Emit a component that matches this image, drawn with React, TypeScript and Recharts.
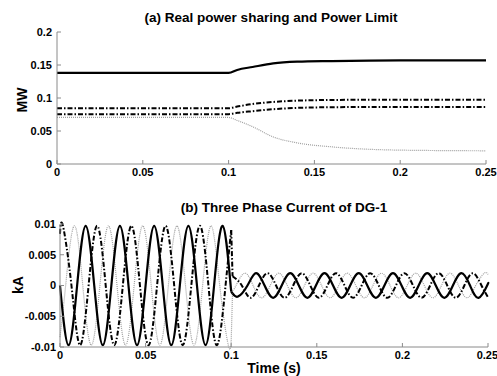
import { LineChart, Line, XAxis, YAxis } from 'recharts';

// (a) real power sharing, MW
const powerTime = [0, 0.1, 0.105, 0.114, 0.126, 0.14, 0.16, 0.2, 0.25];
const powerTotal = [0.138, 0.138, 0.1425, 0.147, 0.1525, 0.155, 0.156, 0.157, 0.157];
const powerDgA = [0.0845, 0.0845, 0.087, 0.091, 0.094, 0.096, 0.097, 0.0975, 0.0975];
const powerDgB = [0.0755, 0.0755, 0.0775, 0.08, 0.083, 0.085, 0.086, 0.0865, 0.0865];
const powerLimit = [0.0705, 0.0705, 0.066, 0.0565, 0.041, 0.032, 0.026, 0.021, 0.02];

// (b) three phase current of DG-1, kA  ([time, value] at peaks / zero crossings)
const phaseA: [number, number][] = [
  [0, 0], [0.005, -0.0097], [0.01, 0], [0.015, 0.0097], [0.02, 0], [0.025, -0.0097],
  [0.03, 0], [0.035, 0.0097], [0.04, 0], [0.045, -0.0097], [0.05, 0], [0.055, 0.0097],
  [0.06, 0], [0.065, -0.0097], [0.07, 0], [0.075, 0.0097], [0.08, 0], [0.085, -0.0097],
  [0.09, 0], [0.095, 0.0097], [0.1, -0.001], [0.1008, -0.0013], [0.104, -0.0018], [0.1095, 0], [0.1145, 0.002],
  [0.1195, 0], [0.1245, -0.002], [0.1295, 0], [0.1345, 0.002], [0.1395, 0], [0.1445, -0.002],
  [0.1495, 0], [0.1545, 0.002], [0.1595, 0], [0.1645, -0.002], [0.1695, 0], [0.1745, 0.002],
  [0.1795, 0], [0.1845, -0.002], [0.1895, 0], [0.1945, 0.002], [0.1995, 0], [0.2045, -0.002],
  [0.2095, 0], [0.2145, 0.002], [0.2195, 0], [0.2245, -0.002], [0.2295, 0], [0.2345, 0.002],
  [0.2395, 0], [0.2445, -0.002], [0.2495, 0], [0.25, 0.0003],
];
const phaseB: [number, number][] = [
  [0, 0.0084], [0.0017, 0.0097], [0.0067, 0], [0.0117, -0.0097], [0.0167, 0], [0.0217, 0.0097],
  [0.0267, 0], [0.0317, -0.0097], [0.0367, 0], [0.0417, 0.0097], [0.0467, 0], [0.0517, -0.0097],
  [0.0567, 0], [0.0617, 0.0097], [0.0667, 0], [0.0717, -0.0097], [0.0767, 0], [0.0817, 0.0097],
  [0.0867, 0], [0.0917, -0.0097], [0.0967, 0], [0.1, 0.009], [0.1008, 0.0015], [0.1062, 0],
  [0.1112, -0.002], [0.1162, 0], [0.1212, 0.002], [0.1262, 0], [0.1312, -0.002], [0.1362, 0],
  [0.1412, 0.002], [0.1462, 0], [0.1512, -0.002], [0.1562, 0], [0.1612, 0.002], [0.1662, 0],
  [0.1712, -0.002], [0.1762, 0], [0.1812, 0.002], [0.1862, 0], [0.1912, -0.002], [0.1962, 0],
  [0.2012, 0.002], [0.2062, 0], [0.2112, -0.002], [0.2162, 0], [0.2212, 0.002], [0.2262, 0],
  [0.2312, -0.002], [0.2362, 0], [0.2412, 0.002], [0.2462, 0], [0.25, -0.0019],
];
const phaseC: [number, number][] = [
  [0, -0.0084], [0.0033, 0], [0.0083, 0.0097], [0.0133, 0], [0.0183, -0.0097], [0.0233, 0],
  [0.0283, 0.0097], [0.0333, 0], [0.0383, -0.0097], [0.0433, 0], [0.0483, 0.0097], [0.0533, 0],
  [0.0583, -0.0097], [0.0633, 0], [0.0683, 0.0097], [0.0733, 0], [0.0783, -0.0097], [0.0833, 0],
  [0.0883, 0.0097], [0.0933, 0], [0.0983, -0.0097], [0.1, -0.009], [0.1008, -0.0008], [0.1028, 0],
  [0.1078, 0.002], [0.1128, 0], [0.1178, -0.002], [0.1228, 0], [0.1278, 0.002], [0.1328, 0],
  [0.1378, -0.002], [0.1428, 0], [0.1478, 0.002], [0.1528, 0], [0.1578, -0.002], [0.1628, 0],
  [0.1678, 0.002], [0.1728, 0], [0.1778, -0.002], [0.1828, 0], [0.1878, 0.002], [0.1928, 0],
  [0.1978, -0.002], [0.2028, 0], [0.2078, 0.002], [0.2128, 0], [0.2178, -0.002], [0.2228, 0],
  [0.2278, 0.002], [0.2328, 0], [0.2378, -0.002], [0.2428, 0], [0.2478, 0.002], [0.25, 0.0018],
];

const timeTicks = [0, 0.05, 0.1, 0.15, 0.2, 0.25];
const mwTicks = [0, 0.05, 0.1, 0.15, 0.2];
const kaTicks = [-0.01, -0.005, 0, 0.005, 0.01];
const STEP_TIME = 0.1; // load step, current drops here

const FONT = '"Liberation Sans", Arial, sans-serif';
const AXIS = '#8a8a8a';
const DOTTED = '#a0a0a0';
const tickStyle = { fontSize: 11, fontWeight: 700, fill: '#000', fontFamily: FONT };

const powerData = powerTime.map((t, i) => ({
  t,
  total: powerTotal[i],
  a: powerDgA[i],
  b: powerDgB[i],
  limit: powerLimit[i],
}));

// smooth sine pieces before / after the step, joined by a short straight jump
function split(arr: [number, number][]) {
  const pts = arr.map(([t, v]) => ({ t, v }));
  const before = pts.filter((p) => p.t <= STEP_TIME);
  const after = pts.filter((p) => p.t > STEP_TIME);
  const jump = [before[before.length - 1], after[0]];
  return { before, jump, after };
}

const phases = [
  { seg: split(phaseC), stroke: DOTTED, width: 1.2, dash: '1 1' },
  { seg: split(phaseB), stroke: '#000', width: 2, dash: '5 2 1.5 2' },
  { seg: split(phaseA), stroke: '#000', width: 2.2, dash: undefined },
];

const text = (s: string, x: number, y: number, size: number, rotate = false) => (
  <div
    style={{
      position: 'absolute',
      left: x,
      top: y,
      transform: `translate(-50%, -50%)${rotate ? ' rotate(-90deg)' : ''}`,
      fontFamily: FONT,
      fontWeight: 700,
      fontSize: size,
      whiteSpace: 'nowrap',
      color: '#000',
    }}
  >
    {s}
  </div>
);

export default function App() {
  return (
    <div style={{ position: 'absolute', left: 0, top: 0, width: 497, height: 376, background: '#fff', overflow: 'hidden' }}>
      <div style={{ position: 'absolute', left: 0, top: 0 }}>
        <LineChart width={497} height={190} data={powerData} margin={{ top: 32, right: 11, bottom: 0, left: 0 }}>
          <XAxis
            dataKey="t"
            type="number"
            domain={[0, 0.25]}
            ticks={timeTicks}
            height={26}
            stroke={AXIS}
            tickSize={-4}
            tickMargin={8}
            tick={tickStyle}
          />
          <XAxis xAxisId="top" orientation="top" dataKey="t" type="number" domain={[0, 0.25]} ticks={timeTicks}
            height={0} stroke={AXIS} tickSize={-4} tickFormatter={() => ''} />
          <YAxis
            type="number"
            domain={[0, 0.2]}
            ticks={mwTicks}
            width={57}
            stroke={AXIS}
            tickSize={-4}
            tickMargin={9}
            tick={tickStyle}
          />
          <YAxis yAxisId="right" orientation="right" type="number" domain={[0, 0.2]} ticks={mwTicks}
            width={0} stroke={AXIS} tickSize={-4} tickFormatter={() => ''} />
          <Line type="monotone" dataKey="limit" stroke={DOTTED} strokeWidth={1.2} strokeDasharray="1 1" dot={false} isAnimationActive={false} />
          <Line type="monotone" dataKey="b" stroke="#000" strokeWidth={2} strokeDasharray="5 2 1.5 2" dot={false} isAnimationActive={false} />
          <Line type="monotone" dataKey="a" stroke="#000" strokeWidth={2} strokeDasharray="5 2 1.5 2" dot={false} isAnimationActive={false} />
          <Line type="monotone" dataKey="total" stroke="#000" strokeWidth={2.2} dot={false} isAnimationActive={false} />
        </LineChart>
      </div>
      <div style={{ position: 'absolute', left: 0, top: 190 }}>
        <LineChart width={497} height={186} margin={{ top: 34, right: 9, bottom: 0, left: 0 }}>
          <XAxis
            dataKey="t"
            type="number"
            domain={[0, 0.25]}
            ticks={timeTicks}
            height={29}
            stroke={AXIS}
            tickSize={-4}
            tickMargin={8}
            tick={tickStyle}
            allowDuplicatedCategory={false}
          />
          <XAxis xAxisId="top" orientation="top" dataKey="t" type="number" domain={[0, 0.25]} ticks={timeTicks}
            height={0} stroke={AXIS} tickSize={-4} tickFormatter={() => ''} allowDuplicatedCategory={false} />
          <YAxis
            type="number"
            domain={[-0.01, 0.01]}
            ticks={kaTicks}
            width={60}
            stroke={AXIS}
            tickSize={-4}
            tickMargin={8}
            tick={tickStyle}
          />
          <YAxis yAxisId="right" orientation="right" type="number" domain={[-0.01, 0.01]} ticks={kaTicks}
            width={0} stroke={AXIS} tickSize={-4} tickFormatter={() => ''} />
          {phases.flatMap((p, i) => [
            <Line key={`b${i}`} data={p.seg.before} type="natural" dataKey="v" stroke={p.stroke} strokeWidth={p.width}
              strokeDasharray={p.dash} dot={false} isAnimationActive={false} />,
            <Line key={`j${i}`} data={p.seg.jump} type="linear" dataKey="v" stroke={p.stroke} strokeWidth={p.width}
              strokeDasharray={p.dash} dot={false} isAnimationActive={false} />,
            <Line key={`a${i}`} data={p.seg.after} type="natural" dataKey="v" stroke={p.stroke} strokeWidth={p.width}
              strokeDasharray={p.dash} dot={false} isAnimationActive={false} />,
          ])}
        </LineChart>
      </div>
      {text('(a) Real power sharing and Power Limit', 271, 17, 13.5)}
      {text('MW', 22, 100, 14, true)}
      {text('(b) Three Phase Current of DG-1', 284, 207, 13.5)}
      {text('kA', 18, 285, 14, true)}
      {text('Time (s)', 274, 368, 14)}
    </div>
  );
}
